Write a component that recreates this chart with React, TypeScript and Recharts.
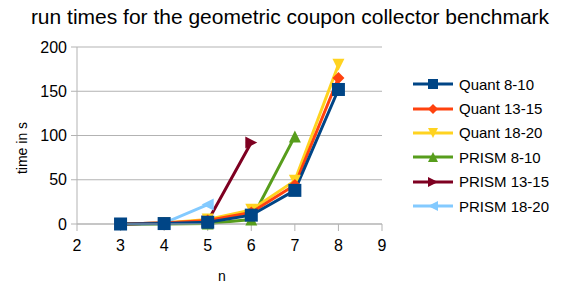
import React from "react";
import { LineChart, Line, XAxis, YAxis, CartesianGrid } from "recharts";

const nValues = [2, 3, 4, 5, 6, 7, 8, 9];
const xTicks = [2, 3, 4, 5, 6, 7, 8, 9];
const yTicks = [0, 50, 100, 150, 200];

// run times in seconds, indexed by n (null = not measured)
const quant810 = [null, 0, 0.5, 2, 10, 38, 152, null];
const quant1315 = [null, 0, 1, 4, 13, 44, 165, null];
const quant1820 = [null, 0, 1, 5, 16, 49, 180, null];
const prism810 = [null, 0, 0, 0.5, 5, 99, null, null];
const prism1315 = [null, 0, 1, 3, 92, null, null, null];
const prism1820 = [null, 0, 1, 22, null, null, null, null];

const series = [
  { key: "q810", name: "Quant 8-10", color: "#004586", shape: "square", values: quant810 },
  { key: "q1315", name: "Quant 13-15", color: "#ff420e", shape: "diamond", values: quant1315 },
  { key: "q1820", name: "Quant 18-20", color: "#ffd320", shape: "down", values: quant1820 },
  { key: "p810", name: "PRISM 8-10", color: "#579d1c", shape: "up", values: prism810 },
  { key: "p1315", name: "PRISM 13-15", color: "#7e0021", shape: "right", values: prism1315 },
  { key: "p1820", name: "PRISM 18-20", color: "#83caff", shape: "left", values: prism1820 },
];

const data = nValues.map((n, i) => {
  const row: Record<string, number | null> = { n };
  series.forEach((s) => {
    row[s.key] = s.values[i];
  });
  return row;
});

const FONT = "'Liberation Sans', Arial, sans-serif";

function marker(shape: string, cx: number, cy: number, color: string, r: number) {
  switch (shape) {
    case "square":
      return <rect x={cx - r} y={cy - r} width={2 * r} height={2 * r} fill={color} />;
    case "diamond":
      return <polygon points={`${cx},${cy - r} ${cx + r},${cy} ${cx},${cy + r} ${cx - r},${cy}`} fill={color} />;
    case "down":
      return <polygon points={`${cx - r},${cy - r} ${cx + r},${cy - r} ${cx},${cy + r}`} fill={color} />;
    case "up":
      return <polygon points={`${cx - r},${cy + r} ${cx + r},${cy + r} ${cx},${cy - r}`} fill={color} />;
    case "right":
      return <polygon points={`${cx - r},${cy - r} ${cx + r},${cy} ${cx - r},${cy + r}`} fill={color} />;
    default:
      return <polygon points={`${cx + r},${cy - r} ${cx - r},${cy} ${cx + r},${cy + r}`} fill={color} />;
  }
}

function makeDot(shape: string, color: string) {
  return (props: any) => {
    const { cx, cy, value, index } = props;
    if (value == null || cx == null || cy == null) return <g key={index} />;
    return <g key={index}>{marker(shape, cx, cy, color, shape === "square" ? 6.5 : 6)}</g>;
  };
}

function LegendBox() {
  return (
    <div
      style={{
        position: "absolute",
        left: 413,
        top: 72,
        fontFamily: FONT,
        fontSize: 15,
        color: "#000",
      }}
    >
      {series.map((s) => (
        <div key={s.key} style={{ display: "flex", alignItems: "center", height: 24.4 }}>
          <svg width={40} height={14} style={{ marginRight: 6 }}>
            <line x1={0} y1={7} x2={40} y2={7} stroke={s.color} strokeWidth={3} />
            {marker(s.shape, 20, 7, s.color, 5)}
          </svg>
          <span>{s.name}</span>
        </div>
      ))}
    </div>
  );
}

export default function App() {
  // first series is drawn last so it sits on top, like the original
  const drawOrder = [...series].reverse();
  return (
    <div style={{ position: "absolute", left: 0, top: 0, width: 561, height: 288, background: "#fff" }}>
      <LineChart
        width={561}
        height={288}
        data={data}
        margin={{ top: 47, right: 179, bottom: 34, left: 37 }}
      >
        <text x={290} y={24} textAnchor="middle" fontFamily={FONT} fontSize={21} fill="#000">
          run times for the geometric coupon collector benchmark
        </text>
        <text
          x={27}
          y={148}
          textAnchor="middle"
          fontFamily={FONT}
          fontSize={14}
          fill="#000"
          transform="rotate(-90 27 148)"
        >
          time in s
        </text>
        <text x={222} y={281} textAnchor="middle" fontFamily={FONT} fontSize={14} fill="#000">
          n
        </text>
        <CartesianGrid vertical={false} stroke="#b3b3b3" strokeWidth={1} />
        <XAxis
          dataKey="n"
          type="number"
          domain={[2, 9]}
          ticks={xTicks}
          height={30}
          stroke="#b3b3b3"
          tickSize={7}
          tick={{ fill: "#000", fontSize: 16, fontFamily: FONT }}
          tickMargin={9}
        />
        <YAxis
          domain={[0, 200]}
          ticks={yTicks}
          width={40}
          stroke="#b3b3b3"
          tickSize={6}
          tick={{ fill: "#000", fontSize: 16, fontFamily: FONT }}
          tickMargin={4}
        />
        {drawOrder.map((s) => (
          <Line
            key={s.key}
            dataKey={s.key}
            name={s.name}
            stroke={s.color}
            strokeWidth={3}
            dot={makeDot(s.shape, s.color)}
            activeDot={false}
            isAnimationActive={false}
          />
        ))}
      </LineChart>
      <LegendBox />
    </div>
  );
}
